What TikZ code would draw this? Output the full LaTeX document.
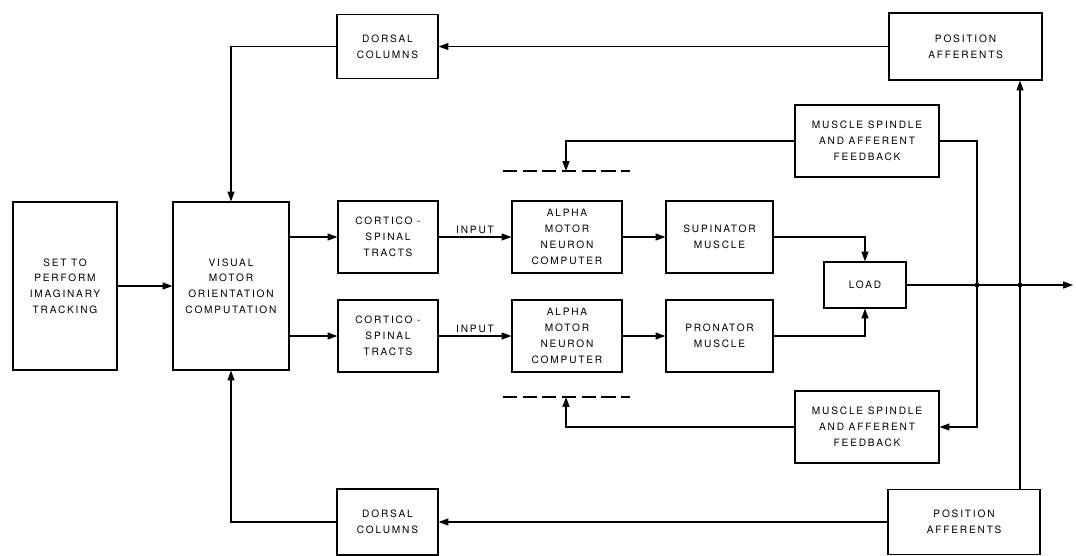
\documentclass[tikz,border=0pt]{standalone}
\usepackage{fontspec}
\setmainfont{TeX Gyre Heros}
\newfontfamily\wide[LetterSpace=18]{TeX Gyre Heros}
\usetikzlibrary{arrows.meta}
\tikzset{
  >={Triangle[length=7pt,width=5pt]},
  blk/.style={draw,line width=0.8pt,align=center,inner sep=1pt,font=\wide\fontsize{7.2}{11.2}\selectfont},
  arr/.style={->,line width=0.8pt},
  lab/.style={font=\wide\fontsize{7.2}{11.2}\selectfont,inner sep=2pt},
  gate/.style={line width=0.8pt,dash pattern=on 10pt off 4pt},
}

\begin{document}
\begin{tikzpicture}[x=0.025cm,y=-0.025cm]
\useasboundingbox (0,0) rectangle (1076,555);
% forward path
\node[blk,minimum width=2.6cm,minimum height=4.2cm] (set) at (65,286) {SET TO\\PERFORM\\IMAGINARY\\TRACKING};
\node[blk,minimum width=2.9cm,minimum height=4.2cm] (vmo) at (231,286) {VISUAL\\MOTOR\\ORIENTATION\\COMPUTATION};
\node[blk,minimum width=2.5cm,minimum height=1.8cm] (cst1) at (388,237) {CORTICO -\\SPINAL\\TRACTS};
\node[blk,minimum width=2.5cm,minimum height=1.8cm] (cst2) at (388,336) {CORTICO -\\SPINAL\\TRACTS};
\node[blk,minimum width=2.75cm,minimum height=1.8cm] (amn1) at (567,237) {ALPHA\\MOTOR\\NEURON\\COMPUTER};
\node[blk,minimum width=2.75cm,minimum height=1.8cm] (amn2) at (567,336) {ALPHA\\MOTOR\\NEURON\\COMPUTER};
\node[blk,minimum width=2.675cm,minimum height=1.8cm] (sup) at (719.5,237) {SUPINATOR\\MUSCLE};
\node[blk,minimum width=2.675cm,minimum height=1.8cm] (pro) at (719.5,336) {PRONATOR\\MUSCLE};
\node[blk,minimum width=2.05cm,minimum height=1.15cm] (load) at (865,285) {LOAD};
% feedback boxes
\node[blk,minimum width=3.6cm,minimum height=1.8cm] (msp1) at (867,141) {MUSCLE SPINDLE\\AND AFFERENT\\FEEDBACK};
\node[blk,minimum width=3.6cm,minimum height=1.8cm] (msp2) at (867,427) {MUSCLE SPINDLE\\AND AFFERENT\\FEEDBACK};
\node[blk,minimum width=2.525cm,minimum height=1.6cm] (dc1) at (387.5,46.5) {DORSAL\\COLUMNS};
\node[blk,minimum width=2.525cm,minimum height=1.65cm] (dc2) at (387.5,522) {DORSAL\\COLUMNS};
\node[blk,minimum width=3.825cm,minimum height=1.675cm] (pa1) at (965.5,46.5) {POSITION\\AFFERENTS};
\node[blk,minimum width=3.8cm,minimum height=1.625cm] (pa2) at (964,522) {POSITION\\AFFERENTS};
\coordinate (j1) at (977,285);
\coordinate (j2) at (1020,285);
\coordinate (out) at (1073,285);
\coordinate (g1) at (566,171);
\coordinate (g2) at (566,397);

% connectors
\draw[arr] (set) -- (vmo);
\draw[arr] (vmo.east |- cst1) -- (cst1);
\draw[arr] (vmo.east |- cst2) -- (cst2);
\draw[arr] (cst1) -- node[lab,above]{INPUT} (amn1);
\draw[arr] (cst2) -- node[lab,above]{INPUT} (amn2);
\draw[arr] (amn1) -- (sup);
\draw[arr] (amn2) -- (pro);
\draw[arr] (sup) -| (load);
\draw[arr] (pro) -| (load);
\draw[arr] (load) -- (out);
\draw[arr] (msp1) -| (j1) |- (msp2);
\draw[arr] (pa2.north -| j2) -- (pa1.south -| j2);
\fill (j1) circle[radius=1.7pt] (j2) circle[radius=1.7pt];
\draw[arr] (msp1) -| (g1);
\draw[arr] (msp2) -| (g2);
\draw[gate] (503,171) -- (630,171);
\draw[gate] (503,397) -- (630,397);
\draw[arr] (pa1) -- (dc1);
\draw[arr] (dc1) -| (vmo);
\draw[arr] (pa2) -- (dc2);
\draw[arr] (dc2) -| (vmo);
\end{tikzpicture}
\end{document}
